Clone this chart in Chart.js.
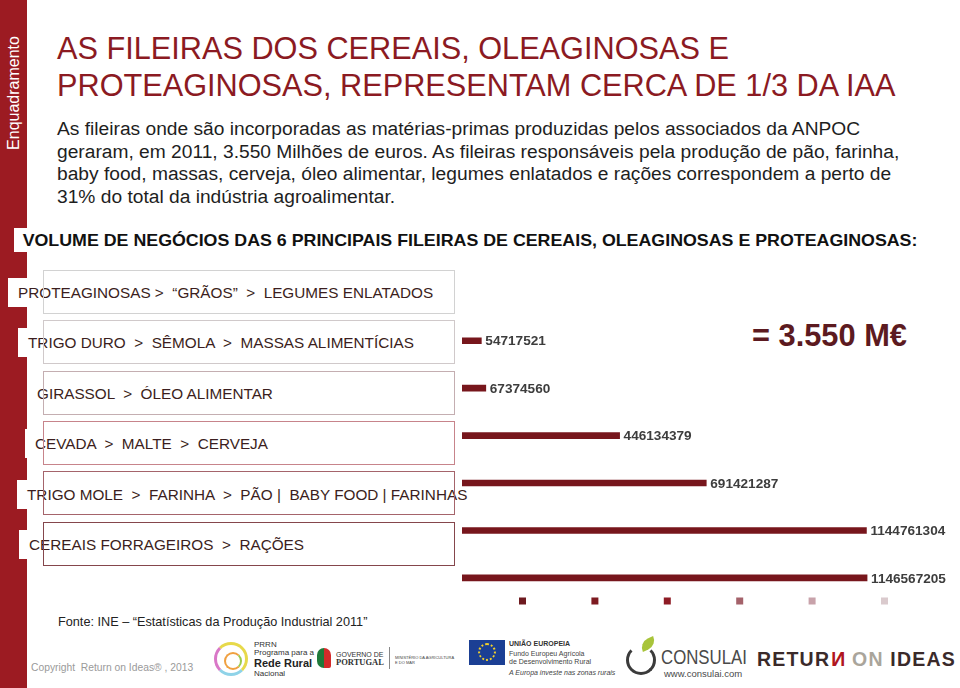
<!DOCTYPE html>
<html lang="pt">
<head>
<meta charset="utf-8">
<script src="https://cdn.jsdelivr.net/npm/chart.js@4.4.1/dist/chart.umd.min.js"></script>
<style>
  html, body { margin: 0; padding: 0; width: 960px; height: 688px; overflow: hidden; background: #fff; }
  body { position: relative; font-family: "Liberation Sans", Arial, sans-serif; }
  .abs { position: absolute; white-space: pre; }
  #band { left: 0; top: 0; width: 27px; height: 688px; background: #9c1b22; }
  #side { left: -86px; top: 83px; width: 200px; height: 20px; line-height: 20px; text-align: center;
          color: #fff; font-size: 16px; transform: rotate(-90deg); }
  #title { left: 57px; top: 30px; color: #8b1a22; font-size: 30.7px; line-height: 37px; }
  #intro { left: 57px; top: 118px; color: #1e1e1e; font-size: 19.2px; line-height: 22.7px; }
  #sub { left: 14px; top: 228px; height: 24px; line-height: 24px; background: #fff; padding-left: 8px;
         color: #111; font-size: 16.5px; font-weight: bold; transform-origin: 0 50%; }
  .lbl { height: 29px; line-height: 29px; background: #fff; padding: 0 4px 0 10px; color: #3b1e20; font-size: 15.3px; }
  .box { left: 43px; width: 410px; height: 42px; border: 1.5px solid #ccc; }
  #total { left: 752px; top: 318px; font-size: 30.8px; font-weight: bold; color: #5c1a20; line-height: 36px; }
  #src { left: 58px; top: 613px; font-size: 12.7px; color: #222; line-height: 18px; }
  #copy { left: 31px; top: 660px; font-size: 10.3px; color: #9a9a9a; line-height: 15px; }
  #chartWrap { left: 455px; top: 317px; width: 551px; height: 300px; }
  .sm { font-size: 7px; line-height: 8px; color: #444; }
</style>
</head>
<body>
<div id="band" class="abs"></div>
<div id="side" class="abs">Enquadramento</div>
<div id="title" class="abs">AS FILEIRAS DOS CEREAIS, OLEAGINOSAS E
PROTEAGINOSAS, REPRESENTAM CERCA DE 1/3 DA IAA</div>
<div id="intro" class="abs">As fileiras onde são incorporadas as matérias-primas produzidas pelos associados da ANPOC
geraram, em 2011, 3.550 Milhões de euros. As fileiras responsáveis pela produção de pão, farinha,
baby food, massas, cerveja, óleo alimentar, legumes enlatados e rações correspondem a perto de
31% do total da indústria agroalimentar.</div>
<div id="sub" class="abs">VOLUME DE NEGÓCIOS DAS 6 PRINCIPAIS FILEIRAS DE CEREAIS, OLEAGINOSAS E PROTEAGINOSAS:</div>
<div id="labels"></div>
<div id="total" class="abs">= 3.550 M€</div>
<div id="chartWrap" class="abs"><canvas id="chart" width="551" height="300"></canvas></div>
<div id="src" class="abs">Fonte: INE – “Estatísticas da Produção Industrial 2011”</div>
<div id="copy" class="abs">Copyright  Return on Ideas® , 2013</div>

<!-- logos (aproximados) -->
<div class="abs" style="left:214px;top:642px;width:34px;height:34px;border-radius:50%;border:3px solid #e7d94a;border-left-color:#d977c7;border-bottom-color:#8fd3e8;box-sizing:border-box;"></div>
<div class="abs" style="left:224px;top:652px;width:18px;height:18px;border-radius:50%;border:2px solid #f0a040;border-right-color:#9ccb4a;box-sizing:border-box;"></div>
<div class="abs" style="left:254px;top:641px;font-size:8px;line-height:8px;color:#333;">PRRN
Programa para a</div>
<div class="abs" style="left:254px;top:658px;font-size:11px;line-height:11px;font-weight:bold;color:#222;">Rede Rural</div>
<div class="abs" style="left:254px;top:670px;font-size:8px;line-height:8px;color:#333;">Nacional</div>
<div class="abs" style="left:317px;top:648px;width:14px;height:20px;border-radius:7px 7px 2px 7px;background:linear-gradient(90deg,#1f7a3a 50%,#d42a2a 50%);"></div>
<div class="abs" style="left:336px;top:651px;font-size:7px;line-height:7px;color:#333;">GOVERNO DE</div>
<div class="abs" style="left:336px;top:658px;font-size:8.5px;line-height:9px;font-weight:bold;color:#333;font-family:'Liberation Serif',serif;">PORTUGAL</div>
<div class="abs" style="left:389px;top:647px;width:1px;height:22px;background:#888;"></div>
<div class="abs" style="left:395px;top:655px;font-size:4px;line-height:5px;color:#444;">MINISTÉRIO DA AGRICULTURA
E DO MAR</div>
<div class="abs" style="left:469px;top:640px;width:36px;height:25px;background:#1b3f94;"></div>
<div class="abs" style="left:478px;top:643px;width:18px;height:18px;border-radius:50%;border:2px dotted #f2d02a;box-sizing:border-box;"></div>
<div class="abs" style="left:509px;top:640px;font-size:7px;line-height:8px;font-weight:bold;color:#333;">UNIÃO EUROPEIA</div>
<div class="abs sm" style="left:509px;top:650px;">Fundo Europeu Agrícola
de Desenvolvimento Rural</div>
<div class="abs sm" style="left:509px;top:669px;font-style:italic;">A Europa investe nas zonas rurais</div>
<div class="abs" style="left:626px;top:645px;width:30px;height:30px;border-radius:50%;border:3px solid #3b3b3b;border-top-color:transparent;box-sizing:border-box;"></div>
<div class="abs" style="left:640px;top:639px;width:16px;height:10px;border-radius:10px 0 10px 0;background:#a8c43a;transform:rotate(-25deg);"></div>
<div class="abs" style="left:661px;top:647px;font-size:20px;line-height:20px;color:#4a4a4a;transform:scaleX(0.84);transform-origin:0 50%;">CONSULAI</div>
<div class="abs" style="left:664px;top:668px;font-size:9.5px;line-height:12px;color:#4a4a4a;">www.consulai.com</div>
<div class="abs" style="left:757px;top:648px;font-size:19.5px;line-height:22px;font-weight:bold;color:#3a2a2a;letter-spacing:1.2px;">RETUR<span style="color:#b0161e;display:inline-block;transform:scaleX(-1);">N</span> <span style="color:#aaa59b;">ON</span> IDEAS</div>

<script>
// fileiras (rótulos das caixas)
const categories = [
  "PROTEAGINOSAS >  “GRÃOS”  >  LEGUMES ENLATADOS",
  "TRIGO DURO  >  SÊMOLA  >  MASSAS ALIMENTÍCIAS",
  "GIRASSOL  >  ÓLEO ALIMENTAR",
  "CEVADA  >  MALTE  >  CERVEJA",
  "TRIGO MOLE  >  FARINHA  >  PÃO |  BABY FOOD | FARINHAS",
  "CEREAIS FORRAGEIROS  >  RAÇÕES"
];
// volume de negócios (euros)
const volumes = [54717521, 67374560, 446134379, 691421287, 1144761304, 1146567205];
const legendColors = ["#6e1a1f", "#7d1a20", "#8e1c25", "#a4626a", "#c8a2aa", "#dacacd"];

// layout das caixas (estilo, não dados)
const boxTops = [270, 320, 370.5, 421, 471, 521.5];
const boxBorders = ["#d2d2d2", "#d0c9ca", "#c4aeb1", "#c7848b", "#a5646b", "#85464c"];
const lblLeft = [8, 18, 27, 25, 17, 19];
const lblTop = [278, 328, 378.5, 429, 479.5, 529.5];

const holder = document.getElementById("labels");
categories.forEach((c, i) => {
  const l = document.createElement("div");
  l.className = "abs lbl";
  l.style.left = lblLeft[i] + "px";
  l.style.top = lblTop[i] + "px";
  l.textContent = c;
  holder.appendChild(l);
});
categories.forEach((c, i) => {
  const b = document.createElement("div");
  b.className = "abs box";
  b.style.top = boxTops[i] + "px";
  b.style.borderColor = boxBorders[i];
  holder.appendChild(b);
});

// subtítulo condensado
const sub = document.getElementById("sub");
sub.style.transform = "scaleX(" + (903 / sub.offsetWidth) + ")";

// rótulos de valor no fim das barras
const valueLabels = {
  id: "valueLabels",
  afterDatasetsDraw(chart) {
    const ctx = chart.ctx;
    const meta = chart.getDatasetMeta(0);
    ctx.save();
    ctx.font = 'bold 13.6px "Liberation Sans", Arial, sans-serif';
    ctx.fillStyle = "#3d3d3d";
    ctx.textBaseline = "middle";
    meta.data.forEach((bar, i) => {
      ctx.fillText(String(volumes[i]), bar.x + 4, bar.y + 1);
    });
    ctx.restore();
  }
};

const ctx = document.getElementById("chart").getContext("2d");
new Chart(ctx, {
  type: "bar",
  data: {
    datasets: [{
      data: volumes.map((v, i) => ({ x: v, y: i })),
      backgroundColor: "#77161c",
      borderWidth: 0,
      barThickness: 6
    }]
  },
  options: {
    indexAxis: "y",
    responsive: false,
    animation: false,
    layout: { padding: { left: 7, right: 7, top: 0, bottom: 0 } },
    scales: {
      x: { type: "linear", min: 0, max: 1.52e9, display: false },
      y: { type: "linear", min: -0.5, max: 5.12, reverse: true, offset: false, display: false }
    },
    plugins: {
      tooltip: { enabled: false },
      legend: {
        position: "bottom",
        align: "center",
        onClick: null,
        labels: {
          boxWidth: 7,
          boxHeight: 7,
          padding: 11.4,
          font: { size: 12, family: '"Liberation Sans", Arial' },
          generateLabels: () => legendColors.map((col, i) => ({
            text: "\u2003\u2003\u2003\u2003",
            fillStyle: col,
            strokeStyle: col,
            lineWidth: 0,
            hidden: false,
            index: i
          }))
        }
      }
    }
  },
  plugins: [valueLabels]
});
</script>
</body>
</html>
